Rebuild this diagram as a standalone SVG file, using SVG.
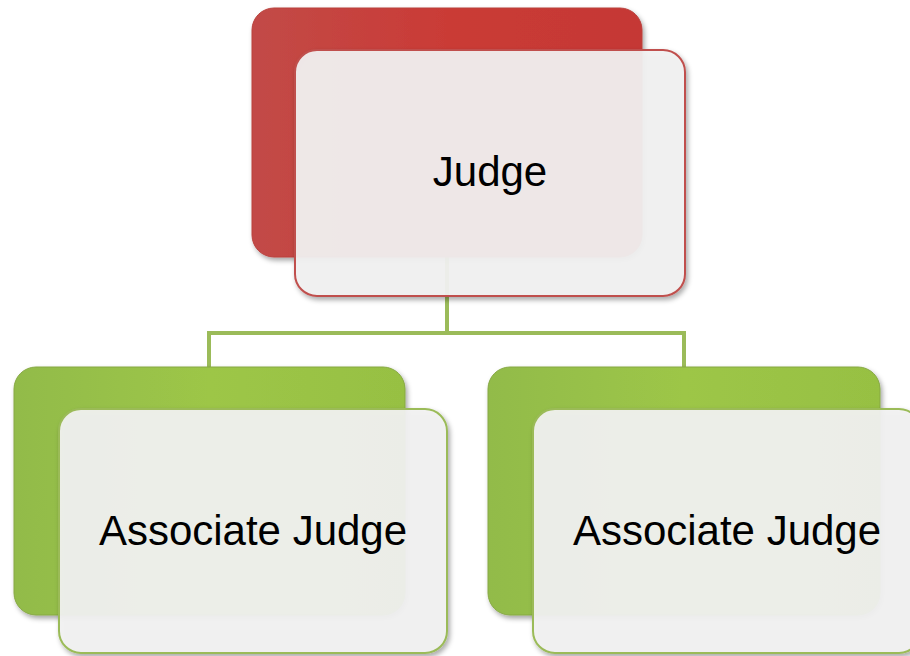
<svg xmlns="http://www.w3.org/2000/svg" width="910" height="656" viewBox="0 0 910 656">
<defs>
<linearGradient id="gRed" x1="0" y1="0" x2="1" y2="0">
<stop offset="0" stop-color="#C24A47"/>
<stop offset="0.5" stop-color="#CA3B36"/>
<stop offset="1" stop-color="#C53834"/>
</linearGradient>
<linearGradient id="gGreen" x1="0" y1="0" x2="1" y2="0">
<stop offset="0" stop-color="#92BB4A"/>
<stop offset="0.5" stop-color="#9DC647"/>
<stop offset="1" stop-color="#97C043"/>
</linearGradient>
<filter id="sh" x="-10%" y="-10%" width="125%" height="125%">
<feDropShadow dx="2" dy="3" stdDeviation="2.5" flood-color="#000" flood-opacity="0.35"/>
</filter>
</defs>
<style>
.back{filter:url(#sh);}
.red{fill:url(#gRed);stroke:#B9403C;stroke-width:1;}
.green{fill:url(#gGreen);stroke:#86A843;stroke-width:1;}
.front{fill:#F2F2F2;fill-opacity:0.93;stroke-width:2;filter:url(#sh);}
.fr{stroke:#C0504D;}
.fg{stroke:#9BBB59;}
.lbl{font-family:"Liberation Sans",Arial,sans-serif;font-size:42px;fill:#000;text-anchor:middle;}
.conn{fill:none;stroke:#9BBB59;stroke-width:4;}
</style>
<rect width="910" height="656" fill="#FFFFFF"/>
<g id="connectors">
<path class="conn" d="M447 257 V333 M209 367 V333 H684 V367"/>
</g>
<g id="judge">
<rect class="back red" x="252" y="8" width="390" height="249" rx="22"/>
<rect class="front fr" x="295" y="50" width="390" height="246" rx="22"/>
<text class="lbl" x="490" y="186">Judge</text>
</g>
<g id="associate1">
<rect class="back green" x="14" y="367" width="391" height="248" rx="22"/>
<rect class="front fg" x="59" y="409" width="388" height="244" rx="22"/>
<text class="lbl" x="253" y="545">Associate Judge</text>
</g>
<g id="associate2">
<rect class="back green" x="488" y="367" width="392" height="248" rx="22"/>
<rect class="front fg" x="533" y="409" width="388" height="244" rx="22"/>
<text class="lbl" x="727" y="545">Associate Judge</text>
</g>
</svg>
